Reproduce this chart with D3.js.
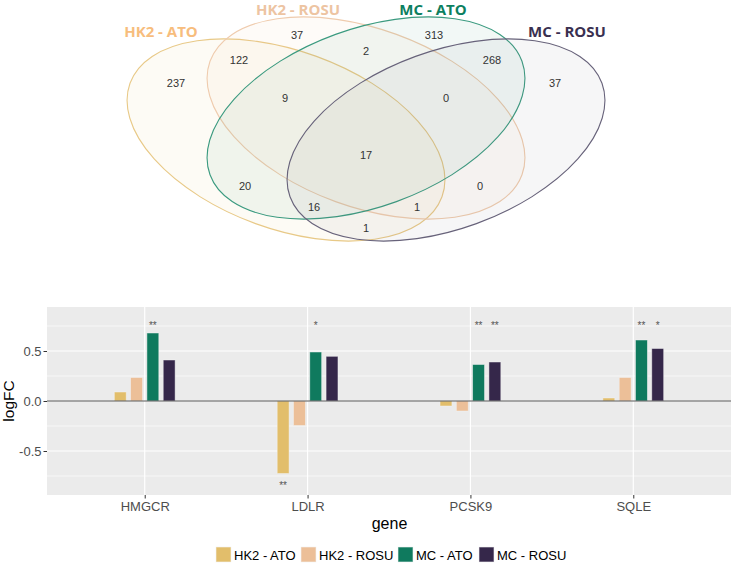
<!DOCTYPE html>
<html>
<head>
<meta charset="utf-8">
<script src="https://cdn.jsdelivr.net/npm/d3@7"></script>
<style>
  body { margin: 0; background: #fff; }
  svg { display: block; font-family: "Liberation Sans", Arial, sans-serif; }
</style>
</head>
<body>
<div id="chart"></div>
<script>
// Gene expression chart - venn of DE genes on top, logFC bars below

// ---- data ----
const groups = ["HK2 - ATO", "HK2 - ROSU", "MC - ATO", "MC - ROSU"];
const genes = ["HMGCR", "LDLR", "PCSK9", "SQLE"];
const logfcHK2ATO  = [0.09, -0.725, -0.05, 0.03];
const logfcHK2ROSU = [0.235, -0.245, -0.10, 0.235];
const logfcMCATO   = [0.68, 0.49, 0.365, 0.61];
const logfcMCROSU  = [0.41, 0.447, 0.39, 0.525];
const sigHK2ATO  = ["", "**", "", ""];
const sigHK2ROSU = ["", "", "", ""];
const sigMCATO   = ["**", "*", "**", "**"];
const sigMCROSU  = ["", "", "**", "*"];
const yTicks = [-0.5, 0.0, 0.5];
const yMinor = [-0.75, -0.25, 0.25, 0.75];

// venn region counts (region key = which sets it belongs to)
const vennRegions = ["A", "AB", "B", "ABC", "AC", "ACD", "ABCD", "ABD", "BC", "C", "CD", "BCD", "D", "BD", "AD"];
const vennCounts  = [237, 122, 37, 9, 20, 16, 17, 1, 2, 313, 268, 0, 37, 0, 1];

const colors = ["#e2be6b", "#ecbf98", "#0f7a5e", "#35274a"];
const vennFills = ["#e6c170", "#ecc09a", "#3f8f78", "#7a7888"];
const strokeCols = ["#e8c987", "#efcbad", "#3a9a7f", "#67627a"];
const labelCols = ["#f7bd7d", "#edc4a2", "#0d7f5f", "#3a3050"];

const W = 731, H = 563;
const svg = d3.select("#chart").append("svg")
    .attr("width", W).attr("height", H);

// ---- venn ----
// ellipse layout (pixels): center, semi axes, rotation
const ellipses = [
    {cx: 286, cy: 140, a: 166, b: 89, rot: 20},
    {cx: 366, cy: 118, a: 166, b: 89, rot: 20},
    {cx: 366, cy: 118, a: 166, b: 89, rot: -20},
    {cx: 446, cy: 140, a: 166, b: 89, rot: -20}
];
const regionPos = {
    A: [176, 83], AB: [239, 60], B: [297, 35], ABC: [285, 98], AC: [245, 186],
    ACD: [314, 207], ABCD: [366, 155], ABD: [366, 228], BC: [366, 51], C: [434, 35],
    CD: [492, 60], BCD: [446, 98], D: [555, 83], BD: [480, 186], AD: [417, 207]
};
const titlePos = [[161, 37], [298, 14.5], [433, 14.5], [567, 37]];

const venn = svg.append("g");
venn.selectAll("ellipse.set")
    .data(ellipses)
    .join("ellipse")
    .attr("class", "set")
    .attr("cx", 0).attr("cy", 0)
    .attr("rx", d => d.a).attr("ry", d => d.b)
    .attr("transform", d => `translate(${d.cx},${d.cy}) rotate(${d.rot})`)
    .attr("fill", (d, i) => vennFills[i])
    .attr("fill-opacity", 0.065)
    .attr("stroke", (d, i) => strokeCols[i])
    .attr("stroke-width", 1.1);

venn.selectAll("text.count")
    .data(vennRegions)
    .join("text")
    .attr("class", "count")
    .attr("x", d => regionPos[d][0])
    .attr("y", d => regionPos[d][1] + 4)
    .attr("text-anchor", "middle")
    .attr("font-size", 11)
    .attr("fill", "#333")
    .text((d, i) => vennCounts[i]);

venn.selectAll("text.title")
    .data(groups)
    .join("text")
    .attr("class", "title")
    .attr("x", (d, i) => titlePos[i][0])
    .attr("y", (d, i) => titlePos[i][1])
    .attr("text-anchor", "middle")
    .attr("font-family", "'Open Sans', sans-serif")
    .attr("font-weight", "bold")
    .attr("font-size", 15)
    .attr("fill", (d, i) => labelCols[i])
    .text(d => d);

// ---- bar chart ----
const panel = {left: 47, right: 731, top: 307, bottom: 495};
const y = d3.scaleLinear().domain([-0.94, 0.94]).range([panel.bottom, panel.top]);
const x = d3.scalePoint().domain(genes).range([panel.left, panel.right]).padding(0.6);
const dodge = d3.scaleBand().domain(groups).range([-32.6, 32.6])
    .paddingInner(0.27).paddingOuter(0.135);

const bars = svg.append("g");
bars.append("rect")
    .attr("x", panel.left).attr("y", panel.top)
    .attr("width", panel.right - panel.left).attr("height", panel.bottom - panel.top)
    .attr("fill", "#ebebeb");

bars.selectAll("line.minor")
    .data(yMinor)
    .join("line")
    .attr("x1", panel.left).attr("x2", panel.right)
    .attr("y1", d => y(d)).attr("y2", d => y(d))
    .attr("stroke", "#fff").attr("stroke-width", 0.6);
bars.selectAll("line.major")
    .data(yTicks)
    .join("line")
    .attr("x1", panel.left).attr("x2", panel.right)
    .attr("y1", d => y(d)).attr("y2", d => y(d))
    .attr("stroke", "#fff").attr("stroke-width", 1.2);
bars.selectAll("line.vmajor")
    .data(genes)
    .join("line")
    .attr("x1", d => x(d)).attr("x2", d => x(d))
    .attr("y1", panel.top).attr("y2", panel.bottom)
    .attr("stroke", "#fff").attr("stroke-width", 1.2);

const series = [logfcHK2ATO, logfcHK2ROSU, logfcMCATO, logfcMCROSU];
const sigs = [sigHK2ATO, sigHK2ROSU, sigMCATO, sigMCROSU];
const barData = [];
genes.forEach((g, gi) => groups.forEach((s, si) => {
    barData.push({gene: g, group: s, si: si, value: series[si][gi], sig: sigs[si][gi]});
}));

bars.selectAll("rect.bar")
    .data(barData)
    .join("rect")
    .attr("class", "bar")
    .attr("x", d => x(d.gene) + dodge(d.group))
    .attr("width", dodge.bandwidth())
    .attr("y", d => y(Math.max(0, d.value)))
    .attr("height", d => Math.abs(y(d.value) - y(0)))
    .attr("fill", d => colors[d.si])
    .attr("stroke", "#f4f4f4").attr("stroke-opacity", 0.6).attr("stroke-width", 0.8);

// zero reference line
bars.append("line")
    .attr("x1", panel.left).attr("x2", panel.right)
    .attr("y1", y(0)).attr("y2", y(0))
    .attr("stroke", "#555").attr("stroke-width", 1);

// significance stars
bars.selectAll("text.sig")
    .data(barData.filter(d => d.sig))
    .join("text")
    .attr("class", "sig")
    .attr("x", d => x(d.gene) + dodge(d.group) + dodge.bandwidth() / 2)
    .attr("y", d => (d.value >= 0 ? y(0.78) : y(-0.82)) + 5.5)
    .attr("text-anchor", "middle")
    .attr("font-size", 10)
    .attr("fill", "#555")
    .text(d => d.sig);

// axes
const yAxis = svg.append("g")
    .attr("transform", `translate(${panel.left},0)`)
    .call(d3.axisLeft(y).tickValues(yTicks).tickFormat(d3.format(".1f")).tickSize(3.5).tickPadding(2));
const xAxis = svg.append("g")
    .attr("transform", `translate(0,${panel.bottom})`)
    .call(d3.axisBottom(x).tickSize(3.5).tickPadding(3));
[yAxis, xAxis].forEach(ax => {
    ax.select(".domain").remove();
    ax.selectAll(".tick line").attr("stroke", "#333");
    ax.selectAll(".tick text").attr("fill", "#4d4d4d").attr("font-size", 13)
        .attr("font-family", "'Liberation Sans', Arial, sans-serif");
});
yAxis.selectAll(".tick text").text(d => d === 0 ? "0.0" : d3.format(".1f")(d).replace("−", "-"));

svg.append("text")
    .attr("transform", `translate(13.5,${(panel.top + panel.bottom) / 2}) rotate(-90)`)
    .attr("text-anchor", "middle")
    .attr("font-size", 15.5)
    .attr("fill", "#000")
    .text("logFC");
svg.append("text")
    .attr("x", (panel.left + panel.right) / 2 + 0.5)
    .attr("y", 529)
    .attr("text-anchor", "middle")
    .attr("font-size", 16)
    .attr("fill", "#000")
    .text("gene");

// legend
const legX = [216, 301, 398, 479];
const legend = svg.append("g").selectAll("g")
    .data(groups)
    .join("g")
    .attr("transform", (d, i) => `translate(${legX[i]},547)`);
legend.append("rect")
    .attr("width", 15).attr("height", 15)
    .attr("fill", (d, i) => colors[i])
    .attr("stroke", "#f4f4f4").attr("stroke-opacity", 0.6);
legend.append("text")
    .attr("x", 18).attr("y", 12.5)
    .attr("font-size", 13)
    .attr("fill", "#000")
    .text(d => d);
</script>
</body>
</html>
